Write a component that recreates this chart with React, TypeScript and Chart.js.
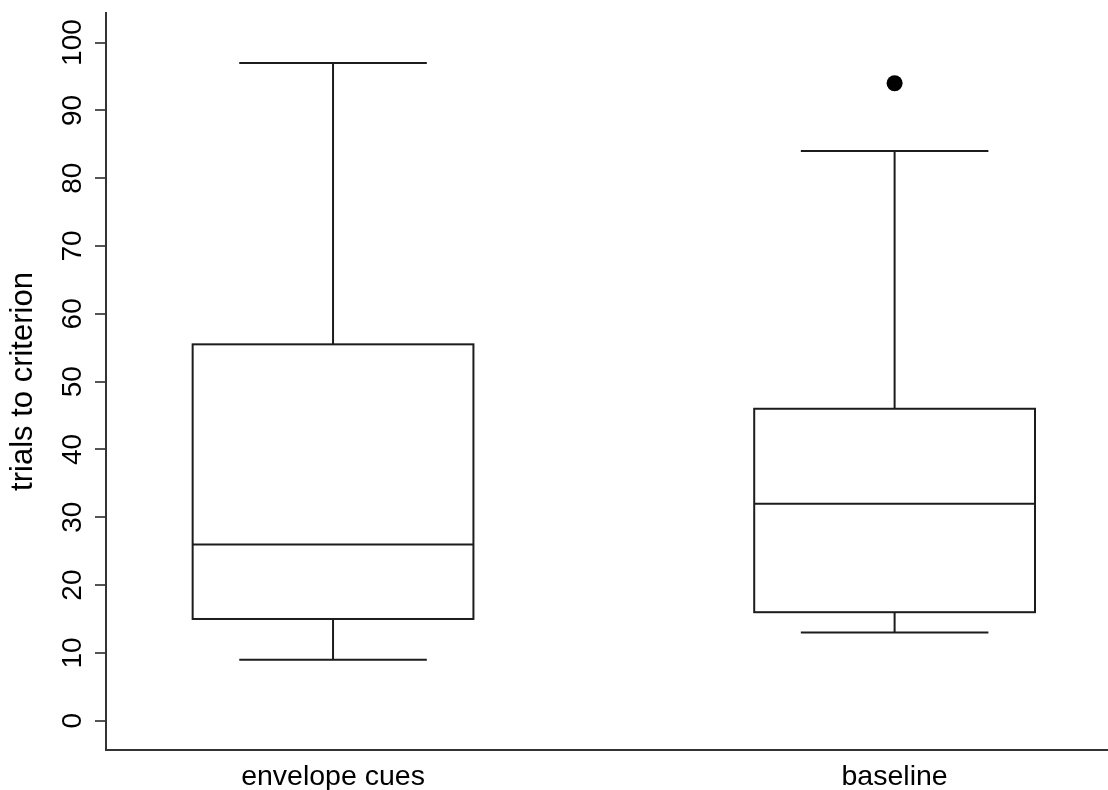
import React, { useEffect, useRef } from 'react';
import { Chart, registerables } from 'chart.js';

Chart.register(...registerables);

// Groups and their x positions
const categories = ['envelope cues', 'baseline'];
const categoryPositions = [1, 2];

// Five-number summaries per group
const whiskerLow = [9, 13];
const quartile1 = [15, 16];
const medians = [26, 32];
const quartile3 = [55.5, 46];
const whiskerHigh = [97, 84];

// Points beyond the whiskers
const outlierPositions = [2];
const outlierValues = [94];

// Value axis ticks
const yTickValues = [0, 10, 20, 30, 40, 50, 60, 70, 80, 90, 100];

const BOX_HALF_WIDTH = 0.25;
const CAP_HALF_WIDTH = 0.167;
const LINE_COLOR = '#1c1c1c';
const FONT_FAMILY = '"Liberation Sans", Arial, Helvetica, sans-serif';

const boxPlotPlugin = {
  id: 'boxPlot',
  afterDatasetsDraw(chart: any) {
    const { ctx } = chart;
    const x = chart.scales.x;
    const y = chart.scales.y;
    ctx.save();
    ctx.strokeStyle = LINE_COLOR;
    ctx.lineWidth = 2;
    ctx.lineCap = 'butt';
    ctx.lineJoin = 'miter';
    categoryPositions.forEach((pos, i) => {
      const cx = x.getPixelForValue(pos);
      const left = x.getPixelForValue(pos - BOX_HALF_WIDTH);
      const right = x.getPixelForValue(pos + BOX_HALF_WIDTH);
      const capLeft = x.getPixelForValue(pos - CAP_HALF_WIDTH);
      const capRight = x.getPixelForValue(pos + CAP_HALF_WIDTH);
      const yLow = y.getPixelForValue(whiskerLow[i]);
      const yQ1 = y.getPixelForValue(quartile1[i]);
      const yMed = y.getPixelForValue(medians[i]);
      const yQ3 = y.getPixelForValue(quartile3[i]);
      const yHigh = y.getPixelForValue(whiskerHigh[i]);

      ctx.beginPath();
      // whiskers
      ctx.moveTo(cx, yQ1);
      ctx.lineTo(cx, yLow);
      ctx.moveTo(cx, yQ3);
      ctx.lineTo(cx, yHigh);
      // caps
      ctx.moveTo(capLeft, yLow);
      ctx.lineTo(capRight, yLow);
      ctx.moveTo(capLeft, yHigh);
      ctx.lineTo(capRight, yHigh);
      // median
      ctx.moveTo(left, yMed);
      ctx.lineTo(right, yMed);
      ctx.stroke();

      // box
      ctx.strokeRect(left, yQ3, right - left, yQ1 - yQ3);
    });
    ctx.restore();
  },
};

export default function App() {
  const canvasRef = useRef<HTMLCanvasElement | null>(null);

  useEffect(() => {
    if (!canvasRef.current) return;
    const chart = new Chart(canvasRef.current, {
      type: 'scatter',
      data: {
        datasets: [
          {
            label: 'outliers',
            data: outlierPositions.map((p, i) => ({ x: p, y: outlierValues[i] })),
            pointRadius: 8,
            pointHoverRadius: 8,
            backgroundColor: '#000000',
            borderWidth: 0,
          },
        ],
      },
      options: {
        animation: false,
        responsive: false,
        devicePixelRatio: 1,
        layout: { autoPadding: false, padding: { top: 13, right: 0, left: 0, bottom: 0 } },
        plugins: {
          legend: { display: false },
          tooltip: { enabled: false },
          title: { display: false },
        },
        scales: {
          x: {
            type: 'linear',
            position: 'bottom',
            min: 0.5957,
            max: 2.38,
            afterBuildTicks: (scale: any) => {
              scale.ticks = categoryPositions.map((v) => ({ value: v }));
            },
            afterFit: (scale: any) => {
              scale.height = 40;
              scale.paddingLeft = 0;
              scale.paddingRight = 0;
            },
            grid: { display: false, drawTicks: false },
            border: { display: true, color: '#333333', width: 2 },
            ticks: {
              autoSkip: false,
              maxRotation: 0,
              minRotation: 0,
              padding: 10,
              color: '#000000',
              font: { family: FONT_FAMILY, size: 28.5 },
              callback: (value: any) => {
                const idx = categoryPositions.indexOf(Number(value));
                return idx >= 0 ? categories[idx] : '';
              },
            },
          },
          y: {
            type: 'linear',
            position: 'left',
            min: -4.32,
            max: 104.36,
            afterBuildTicks: (scale: any) => {
              scale.ticks = yTickValues.map((v) => ({ value: v }));
            },
            afterFit: (scale: any) => {
              scale.width = 106;
              scale.paddingTop = 0;
              scale.paddingBottom = 0;
              scale.paddingLeft = 0;
              scale.paddingRight = 0;
            },
            grid: {
              display: true,
              drawOnChartArea: false,
              drawTicks: true,
              tickLength: 11,
              color: '#555555',
              lineWidth: 2,
            },
            border: { display: true, color: '#333333', width: 2 },
            ticks: {
              autoSkip: false,
              minRotation: 90,
              maxRotation: 90,
              crossAlign: 'center',
              padding: -2,
              color: '#000000',
              font: { family: FONT_FAMILY, size: 28 },
              callback: (value: any) => String(value),
            },
            title: {
              display: true,
              text: 'trials to criterion',
              color: '#000000',
              font: { family: FONT_FAMILY, size: 31 },
              padding: { top: 5, bottom: 0 },
            },
          },
        },
      },
      plugins: [boxPlotPlugin],
    });
    return () => chart.destroy();
  }, []);

  return (
    <div style={{ position: 'absolute', left: 0, top: 0, width: 1108, height: 790, background: '#ffffff' }}>
      <canvas ref={canvasRef} width={1108} height={790} style={{ display: 'block' }} />
    </div>
  );
}
